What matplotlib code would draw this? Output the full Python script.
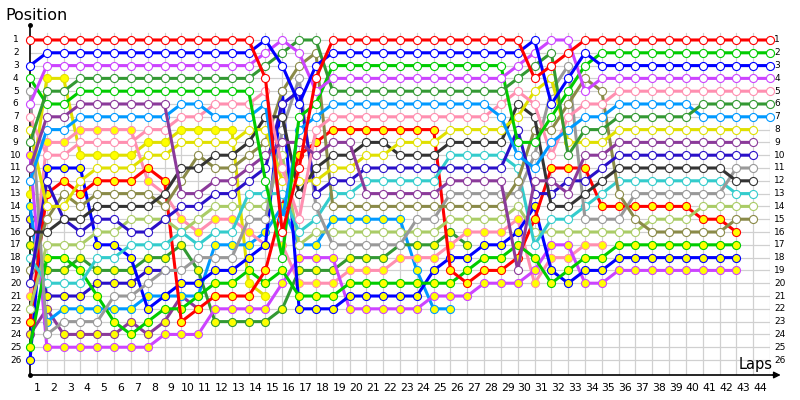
import matplotlib
matplotlib.use("Agg")
import matplotlib.pyplot as plt

# running order per car, one value per lap (lap 0 = grid)
red_1 = [1,1,1,1,1,1,1,1,1,1,1,1,1,1, 4,16,11,4, 1,1,1,1,1,1,1,1,1,1,1,1, 4,3,2, 1,1,1,1,1,1,1,1,1,1,1,1]
blue_1 = [3, 2,2,2,2,2,2,2,2,2,2,2,2,2, 1,3,6,3, 2,2,2,2,2,2,2,2,2,2,2,2, 1,6,4,2, 3,3,3,3,3,3,3,3,3,3,3]
violet_1 = [6, 3,3,3,3,3,3,3,3,3,3,3,3,3, 2,1,2,5,4, 4,4,4,4,4,4,4,4,4,4, 3,2,1,1,5, 4,4,4,4,4,4,4,4,4,4,4]
dkgreen_1 = [9,5,5, 4,4,4,4,4,4,4,4,4,4,4, 3,2,1,1, 5,5,5,5,5,5,5,5,5,5,5, 4,3,2,10,8,8, 7,7,7,7,7, 6,6,6,6,6]
green_1 = [4,6,6, 5,5,5,5,5,5,5,5,5,5,5, 12,18,7,6, 3,3,3,3,3,3,3,3,3,3,3, 9,9,7,5,3, 2,2,2,2,2,2,2,2,2,2,2]
purple_1 = [11,7,7, 6,6,6,6,6,6, 13,13, 12,12, 11,10,9,9,10,9,9, 13,13,13,13,13, 12,12,12,12, 19,12,12,13,10,10, 9,9,9,9,9,9,9,9,9]
ltblue_1 = [12,8,8, 7,7,7,7,7,7, 6,6, 7,7,7, 6,15,8,7, 6,6,6,6,6,6,6,6,6,6, 7,10,11,9,8,7,7, 6,6,6,6,6, 7,7,7,7,7]
pink_1 = [7,10,10, 9,9,9,9, 8,8, 7,7, 6,6,6, 5,11,15,8, 7,7,7,7,7,7,7,7,7,7, 6,5,6,10,7,6,6, 5,5,5,5,5,5,5,5,5,5]
yellow_1 = [8,14,14,12,11,11,11,10,10,9,9,9,9,8, 8,12,12,12,11,11, 10,10, 9,9,9, 8,8,8,8, 7,5,4,9,9,9, 8,8,8,8,8,8,8,8,8]
dkgray_1 = [16,16,15,15,14,14,14,14,13,11,11,10,10,9, 7,7,13,11,10,10, 9,9, 10,10,10, 9,9,9,9, 6,7,14,14,13,12, 11,11,11,11,11,11,11, 12,12]
navy_1 = [20,12,15,16,15,15,16,16,15,14,14,13,13,12, 11,6,5,13,12,12, 11,11,11,11,11, 11,11,11,11, 8,13,13,12,12,11, 10,10,10,10,10,10,10,10,10]
olive_1 = [19,15,13,14,13,13,13,13,14,12,10,11,11,10, 9,5,3,2, 14,14,14,14,14,14,14,14,14,14,14, 12,8,8,6,4,5, 13,15, 16,16,16,16,16, 15,15]
gray_1 = [5,24,23,23,23,21,21,20,19,19,18,18,18,15, 15,8,4,14,17, 17,17,17,17, 15,15, 13,13,13,13, 13,10,5,3,15,15, 15, 13,13,13,13,13,13, 11,11]
cyan_1 = [18,20,20,20,18,18,17,17,17,16,17,16,16,13, 13,13,16,15,13, 13, 12,12,12,12,12, 10,10,10,10, 11,17,15,15,14,13, 12,12,12,12,12,12,12, 13,13]
ltgreen_1 = [22,17,17,17,16,16,15,15,15,16,15,14,14,14, 14,10,17,16,16, 16,16,16,16,16,16, 15,15,15,15, 14,16,16,16,16,16, 16,16, 15,15,15, 14,14,14,14]
red_2 = [23,13,12,13,12,12,12,11,12,23,22,21,21,21, 19,14,10,9, 8,8,8,8,8,8,8, 19,20,19,19,18, 15,11,11,11, 14,14,14,14,14,14, 15,15,16]
green_2 = [25,18,18,19,21,23,24,23,22,22,21,20,20,19, 20,19,21,21,21, 20,20,20,20,20,20,20, 19,18,18,17, 18,20,19,18,18, 17,17,17,17,17,17,17,17]
blue_2 = [26,11,11,11,17,17,18,22,21,20,20,19,19,18, 17,5,22,22,22, 21,21,21,21,21, 19,18,18,17,17,16, 14,19,20,19,19, 18,18,18,18,18,18,18,18]
violet_2 = [10,25,25,25,25,25,25,25,24,24,24,22,22,22, 22,20,18,18,18, 22,22,22,22,22, 21,21,21, 20,20,20, 19,17,17,20,20, 19,19,19,19,19,19,19,19]
pink_2 = [21,9,9,8,8,8,8,12,13,15,16,15,15,16,17,17,20,20,20,19,19,19,18,18,18,17,16,16,16,15,20,18,18,17,17]
dkgreen_2 = [17,19,19,18,19,19,19,18,18,17,19,23,23,23, 23,22,19,19,19, 18,18,18, 17,17,17, 16,17]
ltblue_2 = [14,23,22,22,22,22,22,21,21,21,21,17,17,17, 16,14,17,17,15, 15,15,15,15, 19,22,22]
yellow_2 = [13,4,4,10,10,10,10,9,9,8,8,8,8,20,21]
purple_2 = [24,22,24,24,24,24,23,24,23,21,22]
navy_2 = [15,21,21,21,20,20,20,19,19]

# (series, line colour, marker fill)
cars = [
    (navy_2, '#2a10c8', '#ffff00'),
    (purple_2, '#8b3a9a', '#ffff00'),
    (yellow_2, '#e0e000', '#ffff00'),
    (ltblue_2, '#0099ff', '#ffff00'),
    (dkgreen_2, '#339933', '#ffff00'),
    (pink_2, '#ff8fb0', '#ffff00'),
    (violet_2, '#cc44ff', '#ffff00'),
    (blue_2, '#0000ff', '#ffff00'),
    (green_2, '#00cc00', '#ffff00'),
    (red_2, '#ff0000', '#ffff00'),
    (ltgreen_1, '#aacc66', 'white'),
    (cyan_1, '#33cccc', 'white'),
    (gray_1, '#999999', 'white'),
    (olive_1, '#8a8a48', 'white'),
    (navy_1, '#2a10c8', 'white'),
    (dkgray_1, '#333333', 'white'),
    (yellow_1, '#e0e000', 'white'),
    (pink_1, '#ff8fb0', 'white'),
    (ltblue_1, '#0099ff', 'white'),
    (purple_1, '#8b3a9a', 'white'),
    (green_1, '#00cc00', 'white'),
    (dkgreen_1, '#339933', 'white'),
    (violet_1, '#cc44ff', 'white'),
    (blue_1, '#0000ff', 'white'),
    (red_1, '#ff0000', 'white'),
]

n_laps = 44
n_pos = 26

fig = plt.figure(figsize=(8, 4), dpi=100)
ax = fig.add_axes([30/800, 25/400, 740/800, 350/400])
ax.set_xlim(0, n_laps)
ax.set_ylim(27.17, -0.17)
ax.axis('off')

# grid
grid_c = '#d0d0d0'
for p in range(1, n_pos + 1):
    ax.plot([0, n_laps], [p, p], color=grid_c, lw=0.9, zorder=0)
for lap in range(1, n_laps + 1):
    ax.plot([lap, lap], [0.45, 27.17], color=grid_c, lw=0.9, zorder=0)

# axes with arrows
ax.plot([0, 0], [27.17, -0.17], color='black', lw=1.2, clip_on=False, zorder=1)
ax.plot([0, 44.5], [27.17, 27.17], color='black', lw=1.2, clip_on=False, zorder=1)
ax.plot([0, 0], [-0.17, 27.17], 'o', color='black', ms=2.5, clip_on=False)
ax.annotate('', xy=(44.8, 27.17), xytext=(44.0, 27.17),
            arrowprops=dict(arrowstyle='-|>', color='black', lw=1, mutation_scale=10),
            annotation_clip=False)

for series, col, fill in cars:
    laps = list(range(len(series)))
    ax.plot(laps, series, color=col, lw=2.2, marker='o', ms=5.8,
            mfc=fill, mec=col, mew=0.8, clip_on=False, zorder=2)

# position labels on both sides
for p in range(1, n_pos + 1):
    ax.text(-0.85, p, str(p), ha='center', va='center', fontsize=6.5, clip_on=False)
    ax.text(44.25, p, str(p), ha='left', va='center', fontsize=6.5, clip_on=False)

# lap labels
for lap in range(1, n_laps + 1):
    ax.text(lap - 0.6, 28.2, str(lap), ha='center', va='center', fontsize=7.8, clip_on=False)

fig.text(5/800, 1 - 16/400, 'Position', ha='left', va='center', fontsize=11.5)
fig.text(773/800, 1 - 364/400, 'Laps', ha='right', va='center', fontsize=10.5)

fig.savefig('out.png', dpi=100)
